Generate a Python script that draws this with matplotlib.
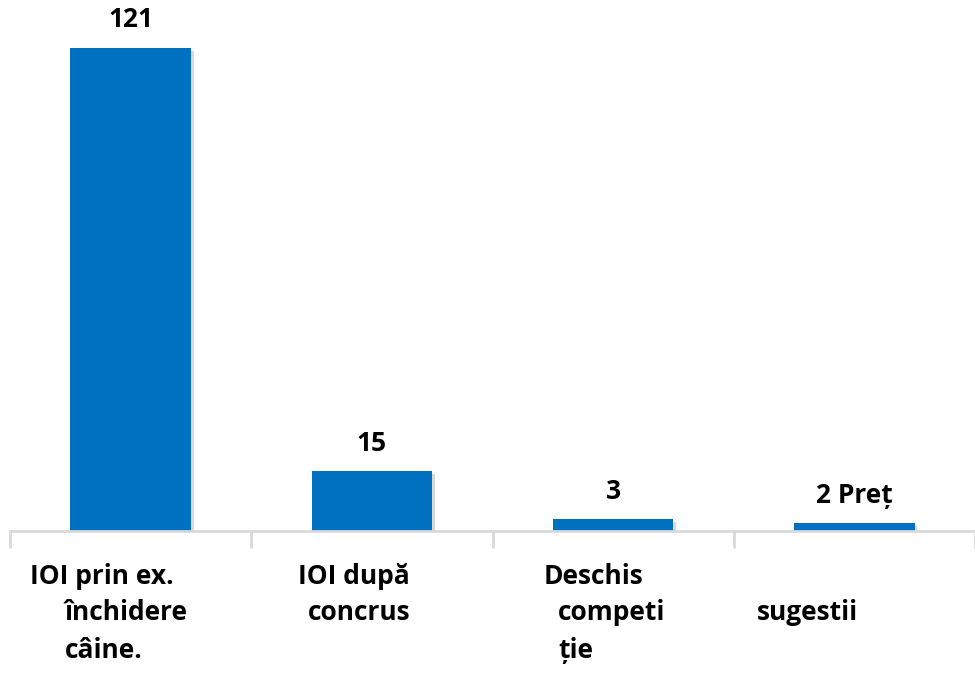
import matplotlib.pyplot as plt
import matplotlib.patheffects as pe
import numpy as np

# date
categorii = [["IOI prin ex.", "închidere", "câine."],
             ["IOI după", "concrus"],
             ["Deschis", "competi", "ție"],
             ["", "sugestii"]]
valori = [121, 15, 3, 2]
etichete = ["121", "15", "3", "2 Preț"]

# deplasari (pixeli) pentru fiecare rand al etichetelor de categorie
dx_randuri = [[-101, -66, -66], [-74, -64], [-70, -55, -55], [0, -97]]
dy_randuri = [-46, -81, -120]

plt.rcParams['font.family'] = ['Open Sans', 'DejaVu Sans']

fig = plt.figure(figsize=(9.75, 6.75), dpi=100)
ax = fig.add_axes([10 / 975, (675 - 531) / 675, 965 / 975, 531 / 675])

x = np.arange(len(valori))
bare = ax.bar(x, valori, width=0.5, color="#0070C0", zorder=2)
for b in bare:
    b.set_path_effects([pe.SimplePatchShadow(offset=(2, -2), alpha=0.25, shadow_rgbFace="#666666"), pe.Normal()])

ax.set_xlim(-0.5, len(valori) - 0.5)
ax.set_ylim(0, 133)

for s in ["top", "right", "left"]:
    ax.spines[s].set_visible(False)
ax.spines["bottom"].set_color("#D9D9D9")
ax.spines["bottom"].set_linewidth(2)
ax.set_yticks([])
ax.set_xticks(np.arange(-0.5, len(valori), 1.0))
ax.set_xticklabels([])
ax.tick_params(axis="x", length=12, width=2, color="#D9D9D9")

for i, v in enumerate(valori):
    ax.annotate(etichete[i], xy=(i, v), xytext=(0, 28), textcoords="offset pixels",
                ha="center", va="center", fontsize=19, fontweight="bold")

for i, linii in enumerate(categorii):
    for j, t in enumerate(linii):
        if not t:
            continue
        ax.annotate(t, xy=(i, 0), xycoords=("data", "axes fraction"),
                    xytext=(dx_randuri[i][j], dy_randuri[j]), textcoords="offset pixels",
                    ha="left", va="center", fontsize=19, fontweight="bold",
                    annotation_clip=False)

fig.savefig("out.png", dpi=100)
